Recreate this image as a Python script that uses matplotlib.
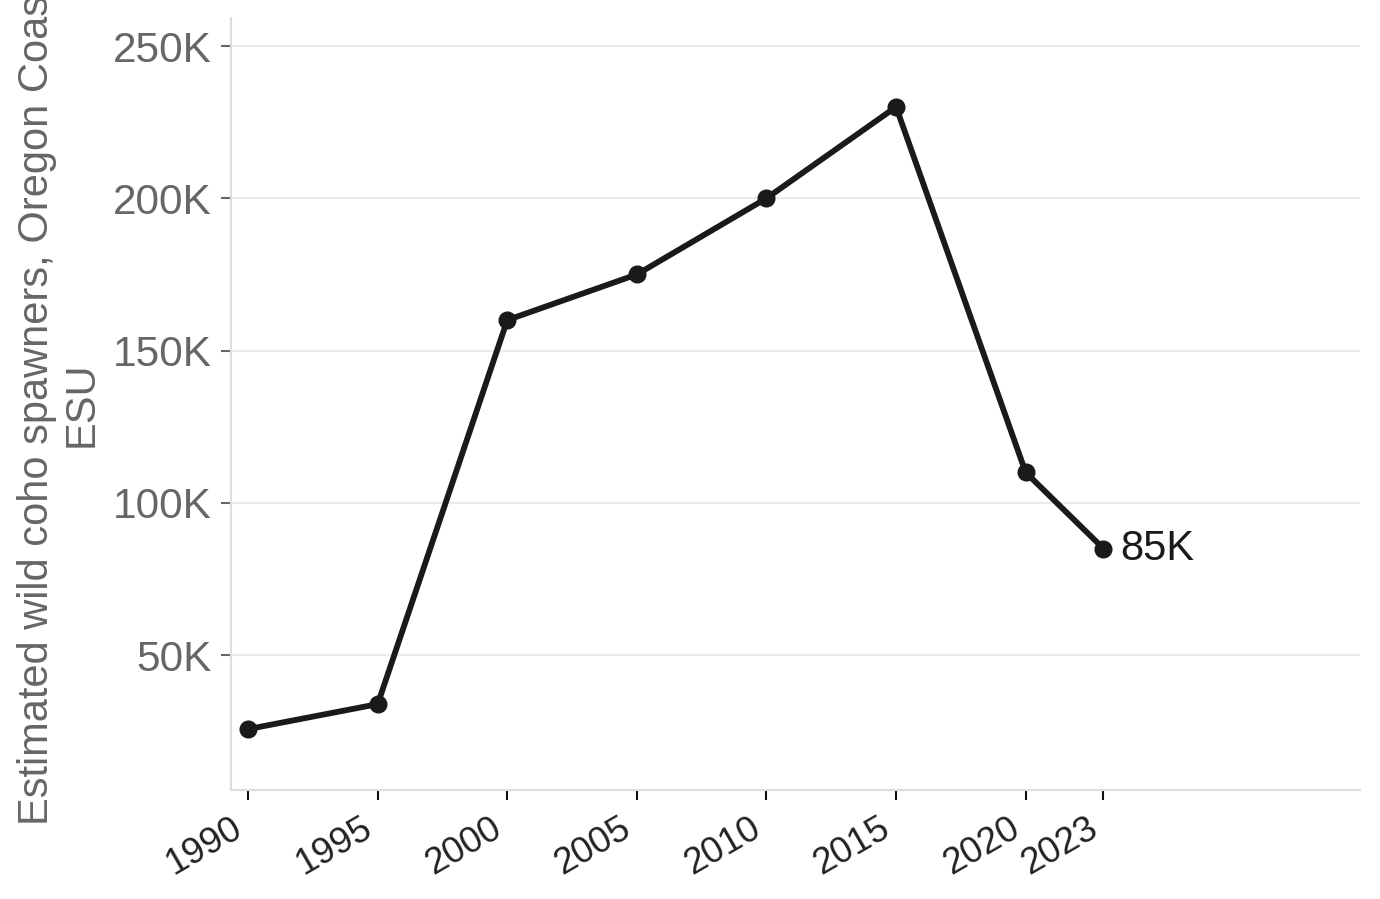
import matplotlib.pyplot as plt
import matplotlib.transforms as mtransforms
from matplotlib.ticker import FuncFormatter

years = [1990, 1995, 2000, 2005, 2010, 2015, 2020, 2023]
spawners = [25700, 33900, 160000, 175000, 200000, 230000, 110000, 85000]
tick_years = [1990, 1995, 2000, 2005, 2010, 2015, 2020, 2023]
y_ticks = [50000, 100000, 150000, 200000, 250000]

plt.rcParams['font.family'] = ['Liberation Sans', 'DejaVu Sans']

fig = plt.figure(figsize=(13.8, 8.99), dpi=100)
ax = fig.add_axes([231 / 1380, 1 - 790 / 899, (1360 - 231) / 1380, (790 - 18) / 899])

ax.plot(years, spawners, color='#1a1a1a', lw=4.2, marker='o', ms=12,
        solid_capstyle='round', zorder=3)
ax.annotate('85K', (years[-1], spawners[-1]), xytext=(12, 0),
            textcoords='offset points', va='center', ha='left',
            fontsize=30, color='#1a1a1a')

ax.set_xlim(1989.34, 2032.9)
ax.set_ylim(5700, 259200)
ax.set_xticks(tick_years)
ax.set_xticklabels([str(y) for y in tick_years], rotation=30, ha='right')
# nudge the rotated labels a bit left, like the original
shift = mtransforms.ScaledTranslation(-6 / 100, 0, fig.dpi_scale_trans)
for lab in ax.get_xticklabels():
    lab.set_transform(lab.get_transform() + shift)
ax.set_yticks(y_ticks)
ax.yaxis.set_major_formatter(FuncFormatter(lambda v, p: f'{int(v / 1000)}K'))

ax.grid(axis='y', color='#ebebeb', lw=1.5)
ax.set_axisbelow(True)
for s in ['top', 'right']:
    ax.spines[s].set_visible(False)
for s in ['left', 'bottom']:
    ax.spines[s].set_color('#dddddd')
    ax.spines[s].set_linewidth(1.5)

ax.tick_params(axis='y', labelsize=30.5, labelcolor='#666666', color='#666666',
               length=7, width=1.5, pad=7)
ax.tick_params(axis='x', labelsize=26.5, labelcolor='#222222', color='#111111',
               length=7, width=1.5, pad=8)

ax.set_ylabel('Estimated wild coho spawners, Oregon Coast\nESU', fontsize=30,
              color='#666666', labelpad=8, linespacing=1.15)

fig.savefig('out.png', dpi=100)
